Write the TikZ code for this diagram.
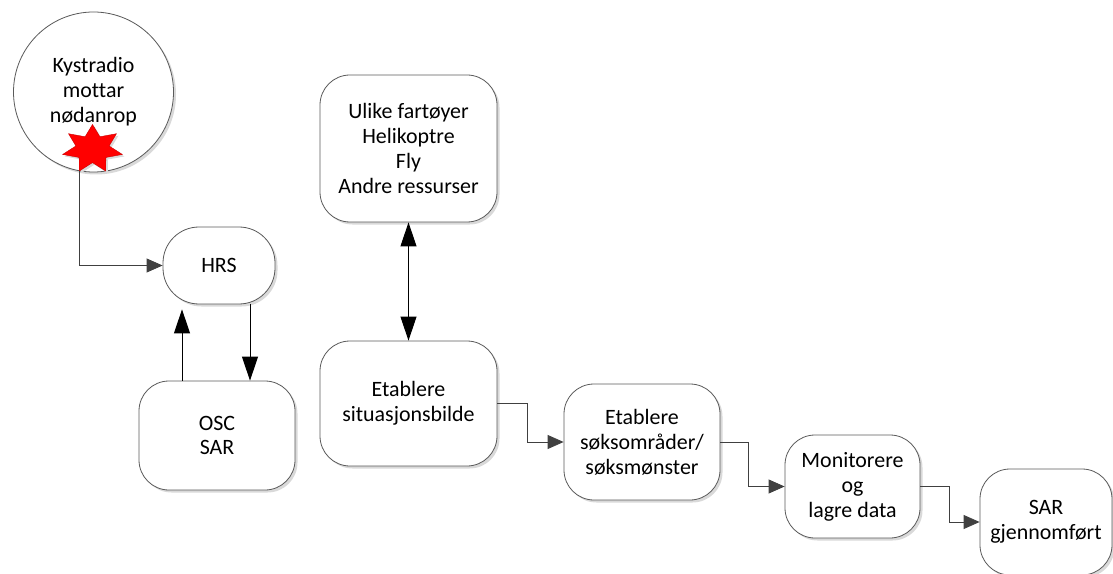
\documentclass[tikz,border=0pt]{standalone}
\usepackage{fontspec}
\setmainfont{Carlito}[Ligatures=CommonOff]
\usetikzlibrary{positioning,arrows.meta,shapes.geometric,shadows}
\definecolor{edge}{HTML}{5A5A5A}
\definecolor{wire}{HTML}{404040}
\definecolor{shade}{HTML}{D9D9D9}

\begin{document}
\begin{tikzpicture}[
  x=1bp, y=-1bp,
  box/.style={draw=edge, fill=white, line width=0.8bp, rounded corners=30bp, align=center, font=\fontsize{22}{25}\selectfont, inner sep=0pt, drop shadow={shadow xshift=2.5bp, shadow yshift=-2.5bp, fill=shade, opacity=1}},
  pill/.style={box, rounded corners=36bp},
  arrow/.style={-{Triangle[length=16bp,width=14bp]}, color=wire, line width=0.8bp},
  bold/.style={-{Triangle[length=24bp,width=16bp]}, line width=1bp},
  both/.style={{Triangle[length=24bp,width=16bp]}-{Triangle[length=24bp,width=16bp]}, line width=1bp},
]
\useasboundingbox (0,0) rectangle (1113,574);
\node[box, circle, minimum size=160bp] (kyst) at (93.5,92) {Kystradio\\mottar\\nødanrop};
\begin{scope}[shift={(92.5,149)}, xscale=1.25]
  \node[star, star points=7, star point ratio=1.8, minimum size=49bp, inner sep=0pt, fill=red, draw=red!80!black, line width=0.4bp, transform shape, drop shadow={shadow xshift=2bp, shadow yshift=-2bp, fill=shade, opacity=1}] (alarm) at (0,0) {};
\end{scope}
\node[pill, minimum width=112bp, minimum height=77bp] (hrs) at (219,265.5) {HRS};
\node[box, minimum width=156bp, minimum height=109bp] (osc) at (217,435.5) {OSC\\SAR};
\node[box, minimum width=177bp, minimum height=147bp] (ulike) at (408.5,148.5) {Ulike fartøyer\\Helikoptre\\Fly\\Andre ressurser};
\node[box, minimum width=177bp, minimum height=125bp] (etab) at (408.5,403.5) {Etablere\\situasjonsbilde};
\node[box, minimum width=156bp, minimum height=116bp] (sok) at (642,442) {Etablere\\søksområder/\\søksmønster};
\node[box, minimum width=135bp, minimum height=103bp] (mon) at (852.5,486.5) {Monitorere\\og\\lagre data};
\node[box, minimum width=132bp, minimum height=106bp] (sar) at (1046,522) {SAR\\gjennomført};
\draw[arrow] (alarm.outer point 4) |- (hrs.west);
\draw[bold, shorten >=5bp] (osc.north -| 182,0) -- (hrs.south -| 182,0);
\draw[bold] (hrs.south -| 250,0) -- (osc.north -| 250,0);
\draw[both] (ulike) -- (etab);
\draw[arrow] (etab.east) -- ++(30,0) |- (sok.west);
\draw[arrow] (sok.east) -- ++(28,0) |- (mon.west);
\draw[arrow] (mon.east) -- ++(29,0) |- (sar.west);
\end{tikzpicture}
\end{document}
